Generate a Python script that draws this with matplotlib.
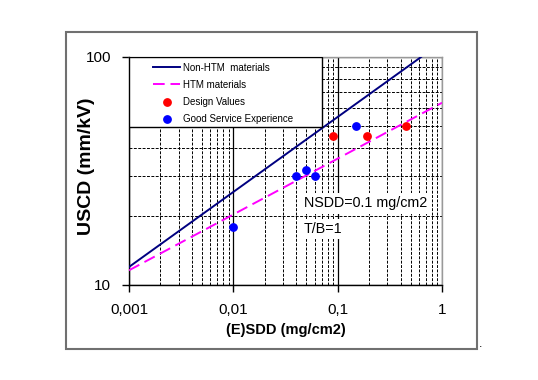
import matplotlib.pyplot as plt
from matplotlib.patches import Rectangle
from matplotlib.ticker import FixedLocator, FixedFormatter, NullFormatter

plt.rcParams['font.family'] = ['Liberation Sans', 'DejaVu Sans']

# lignes de référence (extrémités)
non_htm_x = [0.001, 0.63]
non_htm_y = [12.0, 100.0]
htm_x = [0.001, 1.0]
htm_y = [11.6, 63.0]

# points
design_x = [0.09, 0.19, 0.45]
design_y = [45, 45, 50]
service_x = [0.01, 0.04, 0.05, 0.06, 0.15]
service_y = [18, 30, 32, 30, 50]

xticks = [0.001, 0.01, 0.1, 1]
xticklabels = ['0,001', '0,01', '0,1', '1']
yticks = [10, 100]
yticklabels = ['10', '100']

fig = plt.figure(figsize=(5.38, 3.8), dpi=100)
ax = fig.add_axes([0.2398, 0.25, 0.5818, 0.60])

# cadre extérieur
fig.patches.append(Rectangle((0.1227, 0.0816), 0.7639, 0.8342, transform=fig.transFigure,
                             fill=False, edgecolor='#707070', linewidth=1.5))
fig.text(0.893, 0.095, '.', fontsize=9, ha='center', va='center')

ax.set_xscale('log')
ax.set_yscale('log')
ax.set_xlim(0.001, 1)
ax.set_ylim(10, 100)

ax.plot(non_htm_x, non_htm_y, color='#000080', linewidth=1.4, label='Non-HTM  materials', zorder=4)
ax.plot(htm_x, htm_y, color='#ff00ff', linewidth=1.4, dashes=(6, 3), label='HTM materials', zorder=4)
ax.plot(design_x, design_y, 'o', color='red', markersize=5.3, linestyle='none', label='Design Values', zorder=5)
ax.plot(service_x, service_y, 'o', color='blue', markersize=5.3, linestyle='none',
        label='Good Service Experience', zorder=5)

ax.xaxis.set_major_locator(FixedLocator(xticks))
ax.xaxis.set_major_formatter(FixedFormatter(xticklabels))
ax.yaxis.set_major_locator(FixedLocator(yticks))
ax.yaxis.set_major_formatter(FixedFormatter(yticklabels))
ax.xaxis.set_minor_formatter(NullFormatter())
ax.yaxis.set_minor_formatter(NullFormatter())
ax.tick_params(which='major', direction='out', length=5, width=1, labelsize=11, pad=8)
ax.tick_params(which='minor', length=0)

ax.grid(which='major', color='black', linewidth=0.9, linestyle='-')
ax.grid(which='minor', color='black', linewidth=0.7, linestyle=(0, (3, 1.5)))
ax.set_axisbelow(True)
for s in ax.spines.values():
    s.set_linewidth(1)
    s.set_color('black')
ax.spines['top'].set_color('#999999')
ax.spines['right'].set_color('#999999')

ax.set_xlabel('(E)SDD (mg/cm2)', fontsize=10.5, fontweight='bold', labelpad=4)
ax.set_ylabel('USCD (mm/kV)', fontsize=14, fontweight='bold')
ax.yaxis.set_label_coords(-0.11, 0.52)

boite = dict(facecolor='white', edgecolor='none', pad=2.5)
ax.text(0.0475, 22.8, 'NSDD=0.1 mg/cm2', fontsize=10.3, va='center', ha='left', zorder=6, bbox=boite)
ax.text(0.0475, 17.6, 'T/B=1', fontsize=10.3, va='center', ha='left', zorder=6, bbox=boite)

# boîte de légende
ax.add_patch(Rectangle((0, 0.693), 0.617, 0.307, transform=ax.transAxes,
                       facecolor='white', edgecolor='black', linewidth=1, zorder=6))
leg = ax.legend(loc='upper left', bbox_to_anchor=(0.064, 0.995), frameon=False, fontsize=7,
                handlelength=2.7, handletextpad=0.35, labelspacing=0.75, borderpad=0.45,
                borderaxespad=0)
leg.set_zorder(7)

fig.savefig('out.png', dpi=100)
